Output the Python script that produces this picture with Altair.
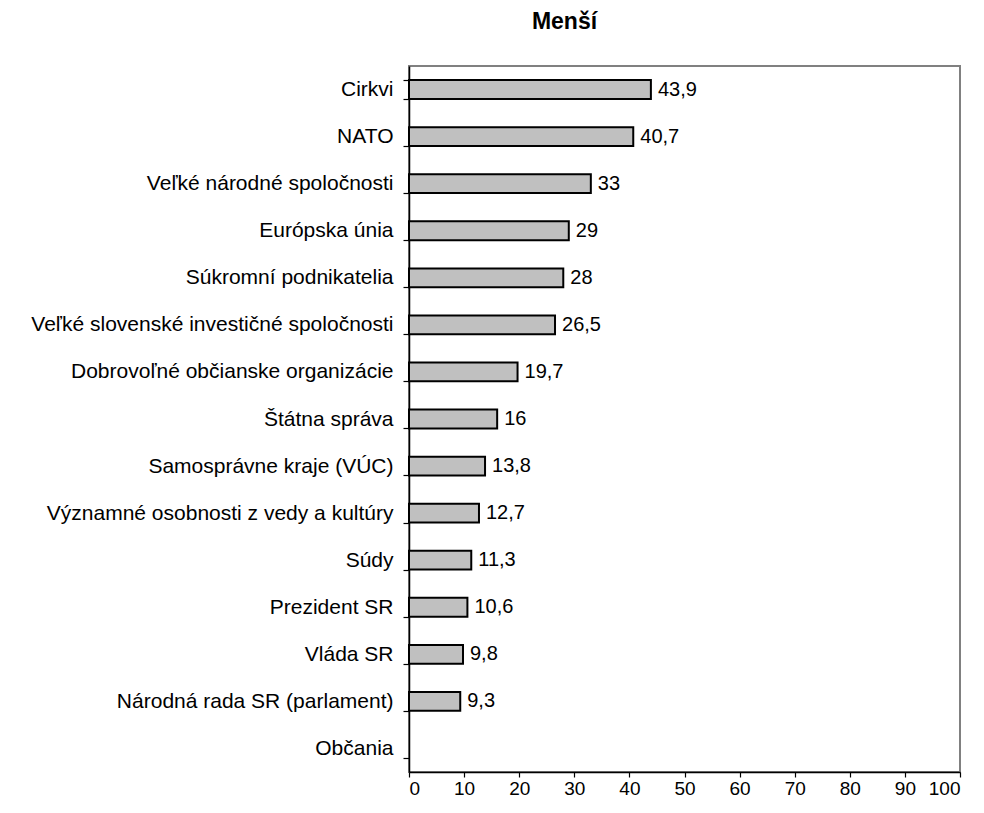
import altair as alt
import pandas as pd

categories = [
    "Cirkvi", "NATO", "Veľké národné spoločnosti", "Európska únia",
    "Súkromní podnikatelia", "Veľké slovenské investičné spoločnosti",
    "Dobrovoľné občianske organizácie", "Štátna správa",
    "Samosprávne kraje (VÚC)", "Významné osobnosti z vedy a kultúry",
    "Súdy", "Prezident SR", "Vláda SR", "Národná rada SR (parlament)", "Občania",
]
values = [43.9, 40.7, 33, 29, 28, 26.5, 19.7, 16, 13.8, 12.7, 11.3, 10.6, 9.8, 9.3, None]
x_ticks = [0, 10, 20, 30, 40, 50, 60, 70, 80, 90, 100]


def fmt(v):
    if v is None:
        return ""
    s = ("%g" % v)
    return s.replace(".", ",")


df = pd.DataFrame({
    "cat": categories,
    "val": values,
    "lab": [fmt(v) for v in values],
})

font = "Liberation Sans"

y_enc = alt.Y(
    "cat:N", sort=None, title=None,
    scale=alt.Scale(domain=categories, paddingInner=0.6, paddingOuter=0.3),
    axis=alt.Axis(
        tickBand="extent", domainColor="black", tickColor="black",
        tickSize=6, labelPadding=10, labelFont=font, labelFontSize=21,
        labelColor="black", domainWidth=1.5, tickWidth=1.2, labelLimit=600,
    ),
)
x_enc = alt.X(
    "val:Q", title=None,
    scale=alt.Scale(domain=[0, 100], nice=False),
    axis=alt.Axis(
        values=x_ticks, grid=False, domainColor="black", tickColor="black",
        tickSize=5, labelPadding=2, labelFont=font, labelFontSize=19,
        labelColor="black", domainWidth=1.5, tickWidth=1.2,
    ),
)

base = alt.Chart(df)
bars = base.mark_bar(color="#C0C0C0", stroke="black", strokeWidth=2).encode(
    y=y_enc, x=x_enc
)
text = base.mark_text(
    align="left", baseline="middle", dx=7, font=font, fontSize=20, color="black"
).encode(y=y_enc, x=x_enc, text="lab:N")

chart = (
    (bars + text)
    .properties(
        width=551, height=706,
        padding={"left": 401, "top": 58, "right": 16, "bottom": 28},
        autosize=alt.AutoSizeParams(type="none"),
        title=alt.TitleParams(
            "Menší", font=font, fontSize=23, fontWeight="bold", color="black",
            anchor="middle", dx=-120, offset=21,
        ),
    )
    .configure_view(stroke="#808080", strokeWidth=2)
)

chart.save("out.html", embed_options={"renderer": "svg", "actions": False})
